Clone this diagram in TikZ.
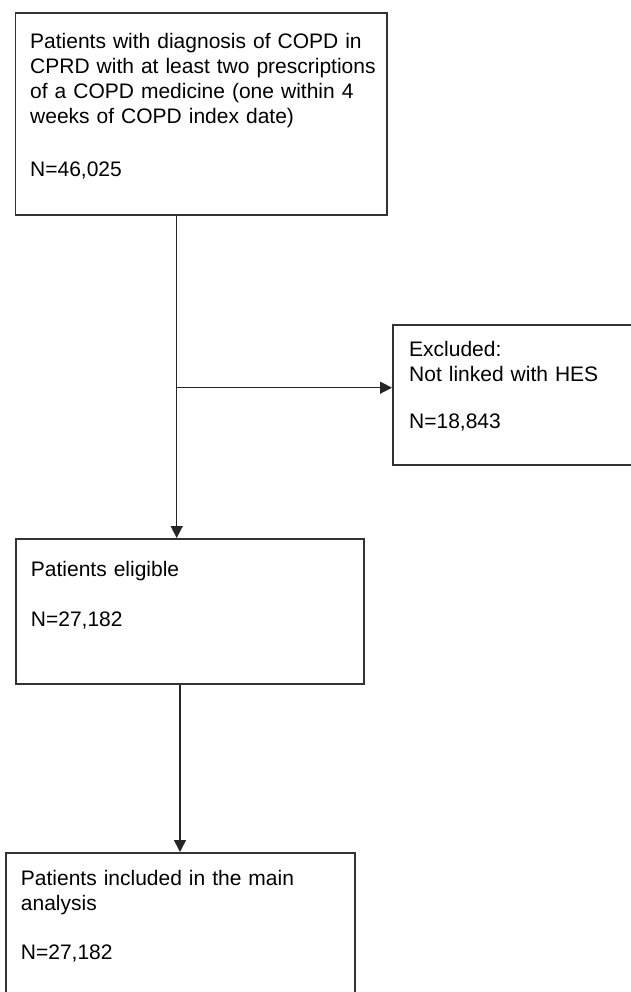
\documentclass[tikz,border=0pt]{standalone}
\usepackage{fontspec}
\setmainfont{Liberation Sans}
\usetikzlibrary{arrows.meta}
\begin{document}
\begin{tikzpicture}[x=1pt,y=-1pt,
  box/.style={draw=black!80,line width=1.8pt,anchor=north west,inner ysep=0pt,align=left,font=\fontsize{21}{25}\selectfont},
  flow/.style={draw=black!85,line width=1.5pt,-{Triangle[length=12pt,width=12pt]}}]
\useasboundingbox (0,0) rectangle (631,992);
\node[box,inner xsep=14.8pt,text width=341.9pt,text height=35.3pt,text depth=166.7pt] (copd) at (14.5,12) {Patients with diagnosis of COPD in\\\mbox{CPRD with at least two prescriptions}\\of a COPD medicine (one within 4\\weeks of COPD index date)\\[28pt]N=46,025};
\node[box,inner xsep=16.3pt,text width=209.4pt,text height=31.7pt,text depth=108.3pt] (excluded) at (392,324) {Excluded:\\Not linked with HES\\[22pt]N=18,843};
\node[box,inner xsep=15.3pt,text width=317.7pt,text height=38pt,text depth=107pt] (eligible) at (14.7,538) {Patients eligible\\[25pt]N=27,182};
\node[box,inner xsep=15.3pt,text width=319pt,text height=33pt,text depth=115pt] (included) at (4.7,852) {Patients included in the main\\analysis\\[24pt]N=27,182};
\coordinate (split) at (176.7,387.7);
\coordinate (drop) at (180,0);
\draw[flow] (copd.south -| split) -- (eligible.north -| split);
\draw[flow] (split) -- (excluded.west |- split);
\draw[flow] (eligible.south -| drop) -- (included.north -| drop);
\end{tikzpicture}
\end{document}
